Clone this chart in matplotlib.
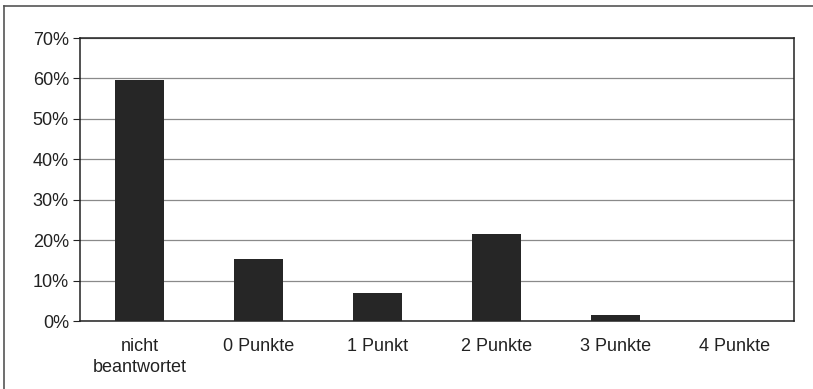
import matplotlib

matplotlib.use("Agg")
import matplotlib.pyplot as plt
from matplotlib.lines import Line2D
from matplotlib.ticker import FuncFormatter

plt.rcParams["font.family"] = ["Liberation Sans", "DejaVu Sans"]

categories = ["nicht\nbeantwortet", "0 Punkte", "1 Punkt", "2 Punkte", "3 Punkte", "4 Punkte"]
shares = [59.6, 15.3, 6.9, 21.4, 1.4, 0.0]
y_ticks = [0, 10, 20, 30, 40, 50, 60, 70]

INK = "#222222"
BAR = "#262626"
GRID = "#8a8a8a"

fig = plt.figure(figsize=(8.13, 3.89), dpi=100)
ax = fig.add_axes([80 / 813, 1 - 321 / 389, 714 / 813, 283 / 389])

x = range(len(categories))
ax.bar(x, shares, width=0.41, color=BAR, zorder=3)

ax.set_xlim(-0.5, len(categories) - 0.5)
ax.set_ylim(0, 70)
ax.set_yticks(y_ticks)
ax.yaxis.set_major_formatter(FuncFormatter(lambda v, _: f"{v:.0f}%"))
ax.set_xticks(list(x))
ax.set_xticklabels(categories, linespacing=1.3)
ax.tick_params(axis="y", length=5, width=0.8, color=INK, labelsize=13,
               labelcolor=INK, pad=3)
ax.tick_params(axis="x", length=0, labelsize=13, labelcolor=INK, pad=12)
for lbl in ax.get_xticklabels():
    lbl.set_va("top")

ax.grid(axis="y", color=GRID, lw=0.9, zorder=0)
for s in ax.spines.values():
    s.set_color(INK)
    s.set_linewidth(1.1)

# outer chart frame (only top and left edges visible in the scan)
fig.add_artist(Line2D([4 / 813, 1.0], [1 - 6 / 389] * 2, color="#555555", lw=1.2,
                      transform=fig.transFigure))
fig.add_artist(Line2D([4 / 813] * 2, [0.0, 1 - 6 / 389], color="#555555", lw=1.2,
                      transform=fig.transFigure))

fig.savefig("out.png", dpi=100, facecolor="white")
